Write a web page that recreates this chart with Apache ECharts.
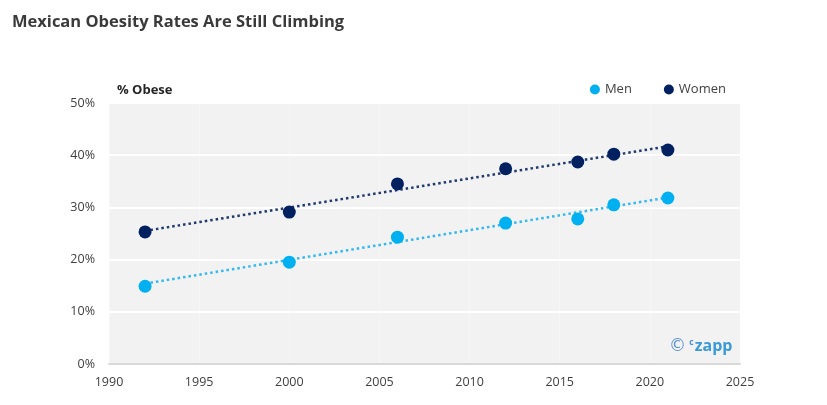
<!DOCTYPE html>
<html><head><meta charset="utf-8">
<script src="https://cdn.jsdelivr.net/npm/echarts@6/dist/echarts.min.js"></script>
<style>html,body{margin:0;padding:0;background:#fff}#c{width:827px;height:405px}</style>
</head><body><div id="c"></div>
<script>
const years = [1992, 2000, 2006, 2012, 2016, 2018, 2021];
const men = [14.9, 19.5, 24.3, 27.0, 27.8, 30.5, 31.8];
const women = [25.3, 29.1, 34.5, 37.4, 38.7, 40.2, 41.0];
// trend line endpoints
const trendYears = [1992, 2021];
const menTrend = [15.4, 31.9];
const womenTrend = [25.5, 41.7];
const xTicks = [1990, 1995, 2000, 2005, 2010, 2015, 2020, 2025];
const yTicks = [0, 10, 20, 30, 40, 50];

const FONT = '"Open Sans", "Noto Sans", sans-serif';
const chart = echarts.init(document.getElementById('c'), null, {renderer: 'canvas'});
const pairs = (xs, ys) => xs.map((x, i) => [x, ys[i]]);
chart.setOption({
  animation: false,
  textStyle: {fontFamily: FONT},
  title: {
    text: 'Mexican Obesity Rates Are Still Climbing',
    left: 7, top: 9,
    textStyle: {fontFamily: FONT, fontSize: 16.5, fontWeight: 'bold', color: '#3a3a3a'}
  },
  legend: {
    right: 96, top: 78, itemWidth: 10, itemHeight: 10, itemGap: 32,
    icon: 'circle',
    textStyle: {fontFamily: FONT, fontSize: 13, color: '#404040'},
    data: ['Men', 'Women']
  },
  grid: {left: 109, right: 87, top: 103, bottom: 41, show: true, backgroundColor: '#f2f2f2', borderWidth: 0},
  xAxis: {
    type: 'value', min: xTicks[0], max: xTicks[xTicks.length - 1], interval: 5,
    axisLine: {show: true, lineStyle: {color: '#d9d9d9', width: 2}},
    axisTick: {show: false},
    splitLine: {show: true, lineStyle: {color: 'rgba(255,255,255,0.35)', width: 1}},
    axisLabel: {fontFamily: FONT, fontSize: 12.5, color: '#404040', margin: 12, formatter: v => String(v)}
  },
  yAxis: {
    type: 'value', min: yTicks[0], max: yTicks[yTicks.length - 1], interval: 10,
    name: '% Obese', nameLocation: 'end', nameGap: 6,
    nameTextStyle: {fontFamily: FONT, fontSize: 13, fontWeight: 'bold', color: '#262626', align: 'left', padding: [0, 0, 0, 8]},
    axisLine: {show: false}, axisTick: {show: false},
    splitLine: {show: true, lineStyle: {color: '#ffffff', width: 2}},
    axisLabel: {fontFamily: FONT, fontSize: 12.5, color: '#404040', margin: 14, formatter: v => v + '%'}
  },
  series: [
    {name: 'MenTrend', type: 'line', data: pairs(trendYears, menTrend), symbol: 'none', silent: true,
     lineStyle: {color: '#33b9ee', width: 2.5, type: [2.5, 3]}, z: 2},
    {name: 'WomenTrend', type: 'line', data: pairs(trendYears, womenTrend), symbol: 'none', silent: true,
     lineStyle: {color: '#203a6e', width: 2.5, type: [2.5, 3]}, z: 2},
    {name: 'Men', type: 'scatter', data: pairs(years, men), symbolSize: 13,
     itemStyle: {color: '#00b0f0', opacity: 1}, z: 3},
    {name: 'Women', type: 'scatter', data: pairs(years, women), symbolSize: 13,
     itemStyle: {color: '#002060', opacity: 1}, z: 3}
  ],
  graphic: [
    {type: 'text', left: 669, top: 338, z: 10,
     style: {text: '{c|©} {s|c}{b|zapp}', rich: {
       c: {fontFamily: '"DejaVu Sans", sans-serif', fontSize: 17, fill: '#5b8fd6', verticalAlign: 'middle'},
       s: {fontFamily: FONT, fontSize: 8.5, fontWeight: 'bold', fill: '#4a90d9', verticalAlign: 'top', padding: [0, 1, 6, 0]},
       b: {fontFamily: FONT, fontSize: 16, fontWeight: 'bold', fill: '#3a9ad9', verticalAlign: 'middle'}
     }}}
  ]
});
</script></body></html>
